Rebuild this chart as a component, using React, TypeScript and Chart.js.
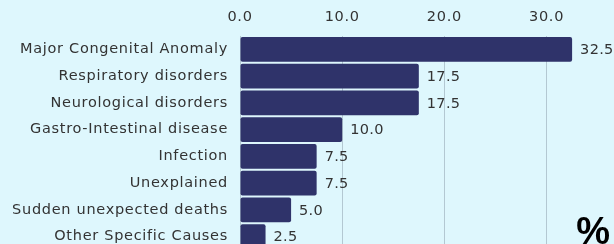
import React, { useEffect, useRef } from "react";
import { Chart, registerables } from "chart.js";

Chart.register(...registerables);

const categories = [
  "Major Congenital Anomaly",
  "Respiratory disorders",
  "Neurological disorders",
  "Gastro-Intestinal disease",
  "Infection",
  "Unexplained",
  "Sudden unexpected deaths",
  "Other Specific Causes",
];
const values = [32.5, 17.5, 17.5, 10.0, 7.5, 7.5, 5.0, 2.5];
const xTicks = [0, 10, 20, 30];

const FONT = "'DejaVu Sans', sans-serif";
const FS = 14.5;
const SPACING = "0.7px";

const spacingPlugin = {
  id: "spacing",
  beforeLayout(chart: any) {
    chart.ctx.letterSpacing = SPACING;
  },
  beforeDraw(chart: any) {
    chart.ctx.letterSpacing = SPACING;
  },
};

const valueLabels = {
  id: "valueLabels",
  afterDatasetsDraw(chart: any) {
    const ctx = chart.ctx;
    const meta = chart.getDatasetMeta(0);
    ctx.save();
    ctx.letterSpacing = "0.3px";
    ctx.font = `${FS}px ${FONT}`;
    ctx.fillStyle = "#333333";
    ctx.textAlign = "left";
    ctx.textBaseline = "middle";
    meta.data.forEach((bar: any, i: number) => {
      ctx.fillText(values[i].toFixed(1), bar.x + 8, bar.y + 1);
    });
    ctx.restore();
  },
};

export default function App() {
  const ref = useRef<HTMLCanvasElement>(null);
  useEffect(() => {
    document.body.style.margin = "0";
    document.body.style.overflow = "hidden";
    document.body.style.background = "#def7fd";
    const chart = new Chart(ref.current!, {
      type: "bar",
      data: {
        labels: categories,
        datasets: [
          {
            data: values,
            backgroundColor: "#2f336a",
            borderRadius: 2,
            borderSkipped: false,
            barPercentage: 0.92,
            categoryPercentage: 1,
          },
        ],
      },
      options: {
        indexAxis: "y",
        animation: false,
        responsive: false,
        layout: { padding: { left: 0, right: 0, top: 0, bottom: 0 } },
        plugins: { legend: { display: false }, tooltip: { enabled: false } },
        scales: {
          x: {
            position: "top",
            min: 0,
            max: 36.6,
            afterBuildTicks: (axis: any) => {
              axis.ticks = xTicks.map((v) => ({ value: v }));
            },
            afterFit: (axis: any) => {
              axis.height = 36;
              axis.paddingLeft = 0;
              axis.paddingRight = 0;
            },
            ticks: {
              callback: (v: any) => Number(v).toFixed(1),
              font: { family: FONT, size: FS },
              color: "#333333",
              padding: 10,
            },
            grid: { color: "#b3c8d2", drawTicks: false, lineWidth: 1 },
            border: { display: false },
          },
          y: {
            afterFit: (axis: any) => {
              axis.width = 240;
              axis.paddingTop = 0;
              axis.paddingBottom = 0;
            },
            ticks: {
              font: { family: FONT, size: FS },
              color: "#333333",
              padding: 12,
            },
            grid: { display: false, drawTicks: false },
            border: { display: false },
          },
        },
      },
      plugins: [spacingPlugin, valueLabels],
    });
    return () => chart.destroy();
  }, []);
  return (
    <div style={{ position: "relative", width: 614, height: 244, overflow: "hidden", background: "#def7fd" }}>
      <canvas ref={ref} width={614} height={250} style={{ display: "block" }} />
      <div
        style={{
          position: "absolute",
          right: 4,
          bottom: -6,
          fontFamily: "'Liberation Sans', Arial, sans-serif",
          fontWeight: "bold",
          fontSize: 38,
          color: "#000",
          lineHeight: 1,
        }}
      >
        %
      </div>
    </div>
  );
}
